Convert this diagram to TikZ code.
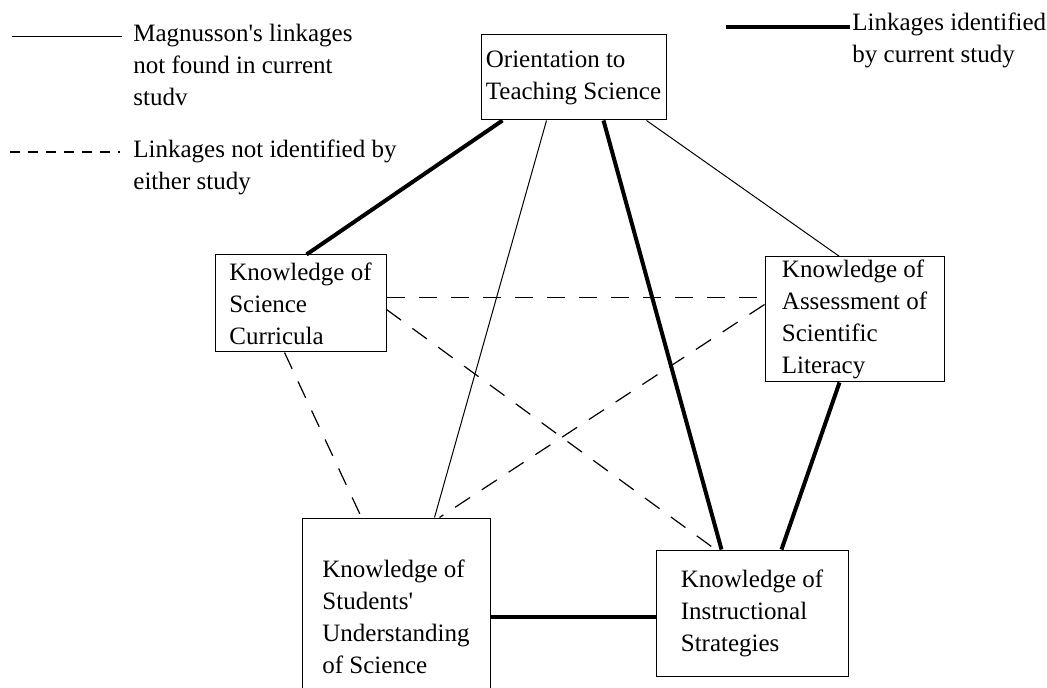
\documentclass[tikz,border=0pt]{standalone}
\usepackage{fontspec}
\setmainfont{Liberation Serif}
\begin{document}
\begin{tikzpicture}[x=0.5pt,y=-0.5pt,
    box/.style={draw,line width=0.5pt,align=left,inner sep=0pt,font=\fontsize{12.5}{16}\selectfont},
    note/.style={align=left,inner sep=0pt,anchor=north west,font=\fontsize{12.5}{16}\selectfont},
    magnusson/.style={line width=0.5pt},
    current/.style={line width=2pt},
    neither/.style={line width=0.6pt,dash pattern=on 9pt off 7pt}]
  \clip (0,0) rectangle (1047,688);
  % legend
  \draw[magnusson] (12,37) coordinate (m1) -- (122,37) coordinate (m2);
  \node[note] (mtext) at (133,24) {Magnusson\textquotesingle s linkages\\not found in current\\studv};
  \draw[neither,dash pattern=on 5pt off 4pt] (10,152) coordinate (n1) -- (120,152) coordinate (n2);
  \node[note] (ntext) at (133,140) {Linkages not identified by\\either study};
  \draw[current] (726,27) coordinate (c1) -- (850,27) coordinate (c2);
  \node[note] (ctext) at (852,13) {Linkages identified\\by current study};
  % components
  \node[box,minimum width=92.5pt,minimum height=42.5pt] (ori) at (573.5,77.5) {Orientation to\\Teaching Science};
  \node[box,minimum width=85.5pt,minimum height=48.5pt] (cur) at (300.5,303.5) {Knowledge of\\Science\\Curricula};
  \node[box,minimum width=89.5pt,minimum height=62.5pt] (ass) at (854.5,319.5) {Knowledge of\\Assessment of\\Scientific\\Literacy};
  \node[box,minimum width=94pt,minimum height=99pt] (stu) at (396,617) {Knowledge of\\Students\textquotesingle\\Understanding\\of Science};
  \node[box,minimum width=96pt,minimum height=63pt] (ins) at (752,613) {Knowledge of\\Instructional\\Strategies};
  % linkages
  \draw[current] ([xshift=11pt]ori.south west) -- ([xshift=46pt]cur.north west);
  \draw[magnusson] ([xshift=33pt]ori.south west) -- ([xshift=66.5pt]stu.north west);
  \draw[current] ([xshift=61.5pt]ori.south west) -- ([xshift=33pt]ins.north west);
  \draw[magnusson] ([xshift=83pt]ori.south west) -- ([xshift=37.5pt]ass.north west);
  \draw[neither] ([yshift=-21.5pt]cur.north east) -- ([yshift=-20.5pt]ass.north west);
  \draw[neither] ([yshift=-27.5pt]cur.north east) -- ([xshift=30pt]ins.north west);
  \draw[neither] ([xshift=35pt]cur.south west) -- ([xshift=30pt]stu.north west);
  \draw[neither] ([yshift=-24pt]ass.north west) -- ([xshift=69pt]stu.north west);
  \draw[current] ([xshift=37.5pt]ass.south west) -- ([xshift=63pt]ins.north west);
  \draw[current] (stu.east) -- (stu.east -| ins.west);
\end{tikzpicture}
\end{document}
